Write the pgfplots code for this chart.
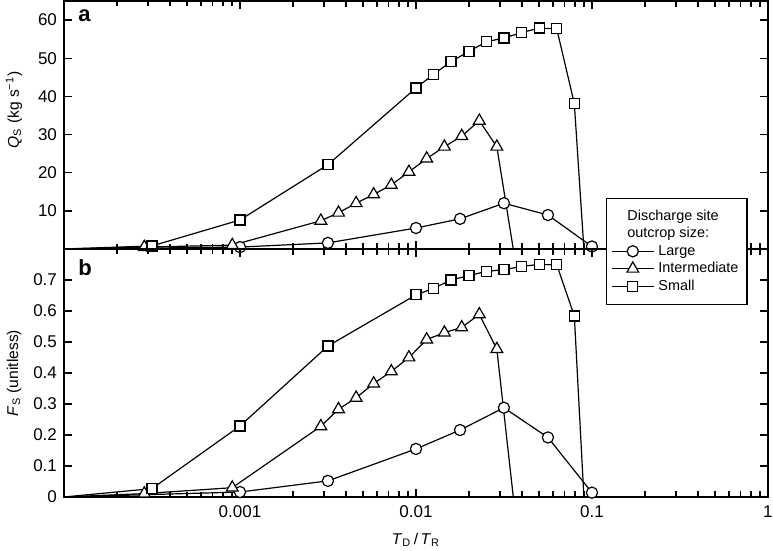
\documentclass[border=0pt]{standalone}
\usepackage{fontspec}
\setmainfont{Liberation Sans}
\usepackage{pgfplots}
\pgfplotsset{compat=1.18}

\pgfplotsset{
  mkL/.style={mark=*, mark size=2.8pt},
  mkI/.style={mark=triangle*, mark size=3.4pt},
  mkS/.style={mark=square*, mark size=2.5pt},
}
\tikzset{tk/.style={black, line width=0.7pt}}
\newcommand{\minorlist}{0.0002,0.0003,0.0004,0.0005,0.0006,0.0007,0.0008,0.0009,
  0.002,0.003,0.004,0.005,0.006,0.007,0.008,0.009,
  0.02,0.03,0.04,0.05,0.06,0.07,0.08,0.09,
  0.2,0.3,0.4,0.5,0.6,0.7,0.8,0.9}

\begin{document}
\begin{tikzpicture}
\useasboundingbox (-32pt,-151pt) rectangle (354.5pt,124.5pt);
% panel a: discharge rate
\begin{axis}[name=a, at={(0,0)}, anchor=south west,
    xmode=log, xmin=1e-4, xmax=1,
    scale only axis, width=352pt, height=124pt,
    xtick={0.001,0.01,0.1,1},
    major tick length=4pt,
    every tick/.style={black, line width=0.7pt},
    axis line style={line width=0.75pt},
    /pgf/number format/assume math mode=true,
    ticklabel style={font=\fontsize{8.5}{10}\selectfont},
    label style={font=\fontsize{7.8}{9}\selectfont},
    every axis plot/.append style={black, line width=0.6pt,
      mark options={fill=white, line width=0.6pt}},
    ymin=0, ymax=65, ytick={10,20,30,40,50,60},
    xticklabels={},
    ylabel={\textit{Q}\textsubscript{S} (kg s\textsuperscript{−1})},
    ylabel style={at={(axis description cs:-0.071,0.56)}, anchor=center},
]
\addplot[mkL, mark indices={2,3,4,5,6,7,8}] coordinates {(0.0001,0)
  (0.001,0.5) (0.00316,1.6) (0.01,5.5) (0.0178,7.9) (0.0316,12.0)
  (0.0562,8.9) (0.1,0.65)};
\addplot[mkI, mark indices={2,3,4,5,6,7,8,9,10,11,12,13,14}] coordinates {
  (0.0001,0) (0.000286,0.5) (0.000904,1.0)
  (0.00288,7.4) (0.00363,9.5) (0.00457,12.0) (0.00575,14.3) (0.00724,16.8)
  (0.00912,20.2) (0.0115,23.7) (0.0145,26.8) (0.0182,29.6) (0.0229,33.6)
  (0.0288,26.8) (0.0387,-10)};
\addplot[mkS, mark indices={2,3,4,5,6,7,8,9,10,11,12,13,14}] coordinates {
  (0.0001,0) (0.000316,0.8) (0.001,7.6)
  (0.00316,22.1) (0.01,42.2) (0.0126,45.8) (0.0158,49.1) (0.02,51.8)
  (0.0251,54.3) (0.0316,55.3) (0.0398,56.7) (0.0501,57.9) (0.0631,57.7)
  (0.0794,38.1) (0.093,-10)};
% tick marks on the box (lengths given in axis units)
\expandafter\pgfplotsinvokeforeach\expandafter{\minorlist}{
  \draw[tk] (axis cs:#1,0) -- (axis cs:#1,1.31);
  \draw[tk] (axis cs:#1,65) -- (axis cs:#1,63.69);}
\pgfplotsinvokeforeach{0.001,0.01,0.1}{
  \draw[tk] (axis cs:#1,0) -- (axis cs:#1,2.1);
  \draw[tk] (axis cs:#1,65) -- (axis cs:#1,62.9);}
\pgfplotsinvokeforeach{10,20,30,40,50,60}{
  \draw[tk] (axis cs:0.0001,#1) -- (axis cs:0.000111,#1);
  \draw[tk] (axis cs:1,#1) -- (axis cs:0.9,#1);}
\node[anchor=base west, inner sep=0pt, font=\bfseries\fontsize{11}{13}\selectfont]
  at (rel axis cs:0.02,0.919) {a};
\end{axis}

% panel b: fraction
\begin{axis}[name=b, at={(a.south west)}, anchor=north west,
    xmode=log, xmin=1e-4, xmax=1,
    scale only axis, width=352pt, height=124pt,
    xtick={0.001,0.01,0.1,1},
    major tick length=4pt,
    every tick/.style={black, line width=0.7pt},
    axis line style={line width=0.75pt},
    /pgf/number format/assume math mode=true,
    ticklabel style={font=\fontsize{8.5}{10}\selectfont},
    label style={font=\fontsize{7.8}{9}\selectfont},
    every axis plot/.append style={black, line width=0.6pt,
      mark options={fill=white, line width=0.6pt}},
    legend image code/.code={
      \draw[#1, mark indices={2}]
        plot coordinates {(0cm,0cm) (0.37cm,0cm) (0.74cm,0cm)};},
    ymin=0, ymax=0.8, ytick={0,0.1,0.2,0.3,0.4,0.5,0.6,0.7},
    yticklabels={0,0.1,0.2,0.3,0.4,0.5,0.6,0.7},
    xticklabels={0.001,0.01,0.1,1},
    xticklabel style={yshift=-1pt},
    ylabel={\textit{F}\textsubscript{S} (unitless)},
    ylabel style={at={(axis description cs:-0.071,0.5)}, anchor=center},
    xlabel={\textit{T}\textsubscript{D}\,/\,\textit{T}\textsubscript{R}},
    xlabel style={at={(axis description cs:0.5,-0.173)}, anchor=center},
    legend style={at={(0.770,1.206)}, anchor=north west,
      font=\fontsize{7.2}{8.5}\selectfont, draw=black, line width=0.6pt,
      fill=white, row sep=-2.3pt, inner xsep=2.25pt, inner ysep=3.5pt},
    legend cell align=left,
    legend style={cells={inner xsep=2.5pt, inner ysep=0.8pt,
      text height=5.5pt, text depth=1.6pt}},
]
\addlegendimage{empty legend}
\addlegendimage{empty legend}
\addplot[mkL, mark indices={2,3,4,5,6,7,8}] coordinates {(0.0001,0)
  (0.001,0.016) (0.00316,0.052) (0.01,0.155) (0.0178,0.216) (0.0316,0.288)
  (0.0562,0.192) (0.1,0.014)};
\addplot[mkI, mark indices={2,3,4,5,6,7,8,9,10,11,12,13,14}] coordinates {
  (0.0001,0) (0.000286,0.011) (0.000904,0.030)
  (0.00288,0.228) (0.00363,0.283) (0.00457,0.320) (0.00575,0.366)
  (0.00724,0.405) (0.00912,0.450) (0.0115,0.508) (0.0145,0.530)
  (0.0182,0.547) (0.0229,0.589) (0.0288,0.477) (0.0391,-0.2)};
\addplot[mkS, mark indices={2,3,4,5,6,7,8,9,10,11,12,13,14}] coordinates {
  (0.0001,0) (0.000316,0.027) (0.001,0.229)
  (0.00316,0.487) (0.01,0.652) (0.0126,0.673) (0.0158,0.700) (0.02,0.714)
  (0.0251,0.728) (0.0316,0.733) (0.0398,0.744) (0.0501,0.750)
  (0.0631,0.749) (0.0794,0.584) (0.0939,-0.2)};
\legend{\hspace*{-15.5pt}Discharge site,\hspace*{-15.5pt}outcrop size:,Large,Intermediate,Small}
% tick marks on the box (lengths given in axis units)
\expandafter\pgfplotsinvokeforeach\expandafter{\minorlist}{
  \draw[tk] (axis cs:#1,0) -- (axis cs:#1,0.0161);
  \draw[tk] (axis cs:#1,0.8) -- (axis cs:#1,0.7839);}
\pgfplotsinvokeforeach{0.001,0.01,0.1}{
  \draw[tk] (axis cs:#1,0) -- (axis cs:#1,0.0258);
  \draw[tk] (axis cs:#1,0.8) -- (axis cs:#1,0.7742);}
\pgfplotsinvokeforeach{0.1,0.2,0.3,0.4,0.5,0.6,0.7}{
  \draw[tk] (axis cs:0.0001,#1) -- (axis cs:0.000111,#1);
  \draw[tk] (axis cs:1,#1) -- (axis cs:0.9,#1);}
\node[anchor=base west, inner sep=0pt, font=\bfseries\fontsize{11}{13}\selectfont]
  at (rel axis cs:0.02,0.895) {b};
\end{axis}
\end{tikzpicture}
\end{document}
